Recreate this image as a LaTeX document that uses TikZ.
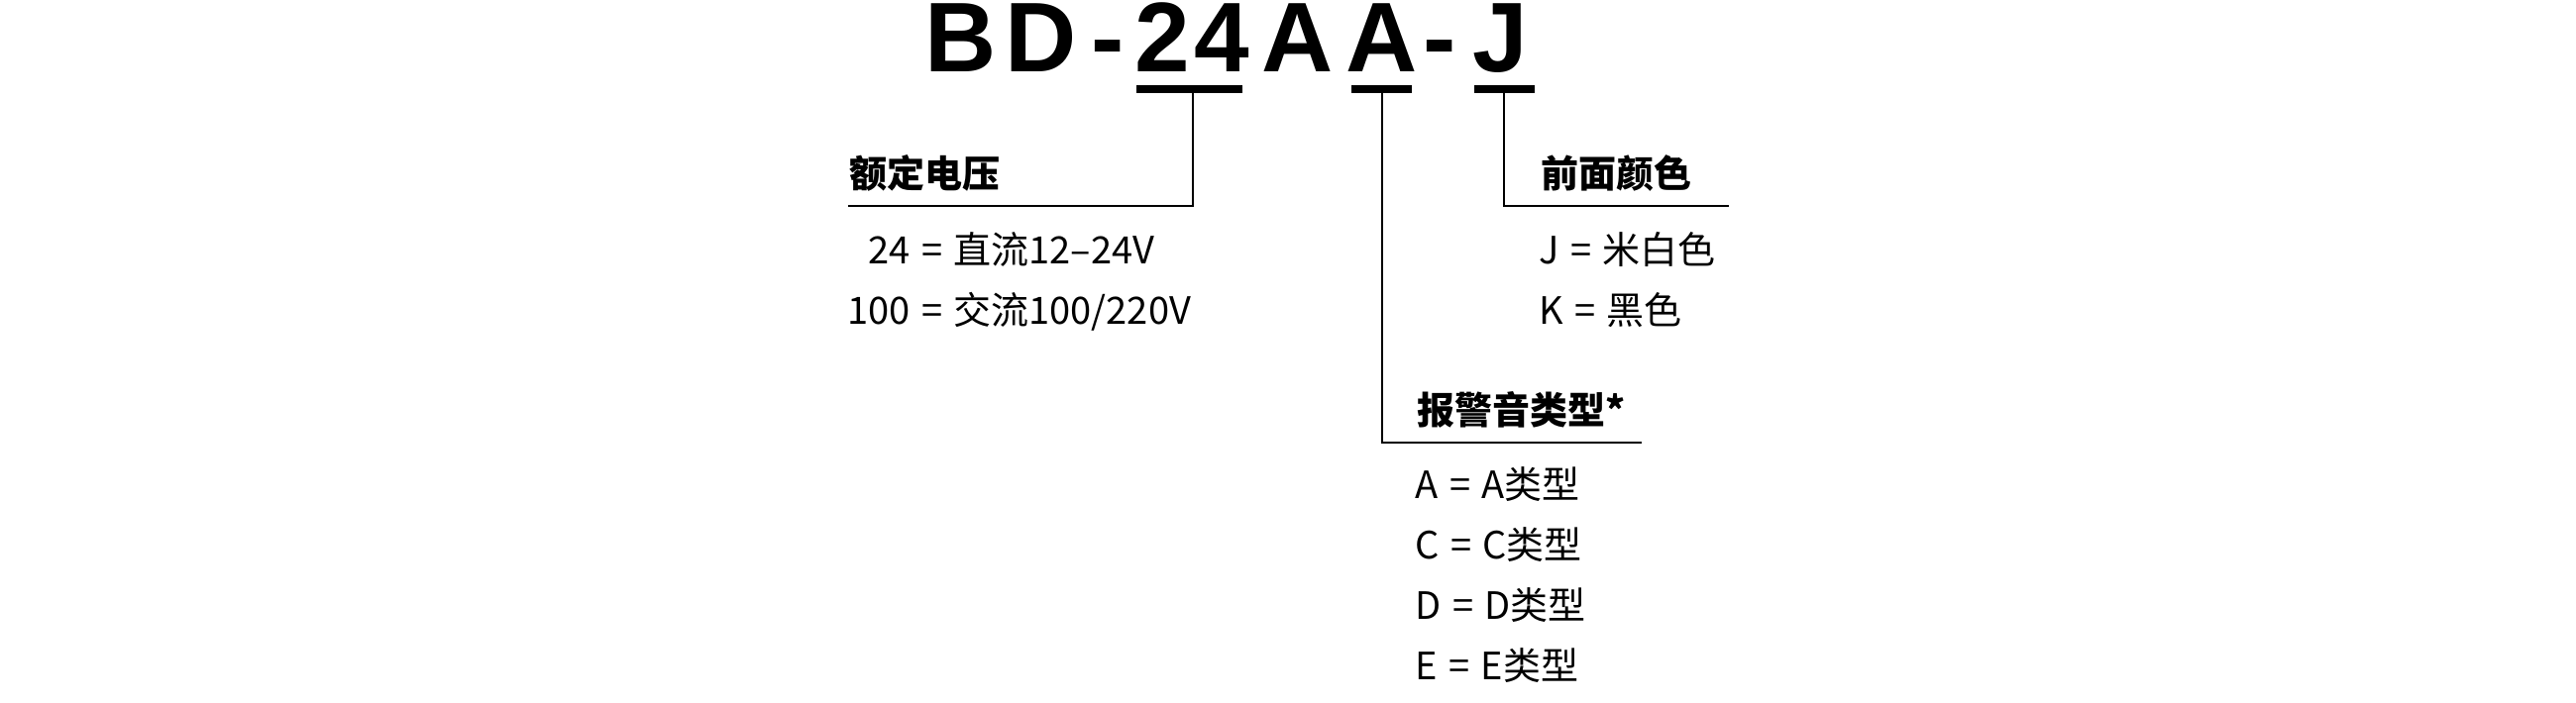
\documentclass[tikz,border=0pt]{standalone}
\usepackage{fontspec}
\setmainfont{Noto Sans CJK SC}
\newfontfamily\titlefont{Liberation Sans}
\newcommand\widespace{\spaceskip=0.3em\relax}

\tikzset{
	lead/.style={line width=0.8pt},
	bar/.style={line width=3.2pt},
	head/.style={anchor=base west, inner sep=0pt, font=\fontsize{15.2}{18}\selectfont\bfseries},
	entry/.style={anchor=base west, inner sep=0pt, font=\fontsize{15.2}{18}\selectfont\widespace},
	letter/.style={anchor=base west, inner sep=0pt, font=\titlefont\fontsize{40}{48}\selectfont\bfseries},
}

\begin{document}
\begin{tikzpicture}[x=0.4pt, y=-0.4pt]
		\useasboundingbox (0,0) rectangle (2600,710);
		
		%codice
		\foreach \ch/\x [count=\i] in {B/933,D/1014,-/1101,2/1145,4/1205,A/1273,A/1358,-/1436,J/1486}
			\node[letter] (t\i) at (\x,73) {\ch};
		
		%sottolineature
		\draw[bar] (1147,90) -- (1254,90);
		\draw[bar] (1364,90) -- (1425,90);
		\draw[bar] (1488,90) -- (1549,90);
		\coordinate (u24) at (1204,94);
		\coordinate (ua) at (1395,94);
		\coordinate (uj) at (1518,94);
		
		%tensione
		\coordinate (vend) at (856,208);
		\draw[lead] (u24) |- (vend);
		\node[head] (volt) at (857,190) {额定电压};
		\node[entry] (volt1) at (876,267) {24 = 直流12–24V};
		\node[entry] (volt2) at (855,328) {100 = 交流100/220V};
		
		%colore
		\coordinate (cend) at (1745,208);
		\draw[lead] (uj) |- (cend);
		\node[head] (col) at (1555,190) {前面颜色};
		\node[entry] (col1) at (1553,267) {J = 米白色};
		\node[entry] (col2) at (1553,328) {K = 黑色};
		
		%suono
		\coordinate (send) at (1657,447);
		\draw[lead] (ua) |- (send);
		\node[head] (snd) at (1430,429) {报警音类型*};
		\foreach \lt/\y [count=\i] in {A/504,C/565,D/626,E/687}
			\node[entry] (snd\i) at (1428,\y) {\lt{} = \lt{}类型};
	\end{tikzpicture}
\end{document}
